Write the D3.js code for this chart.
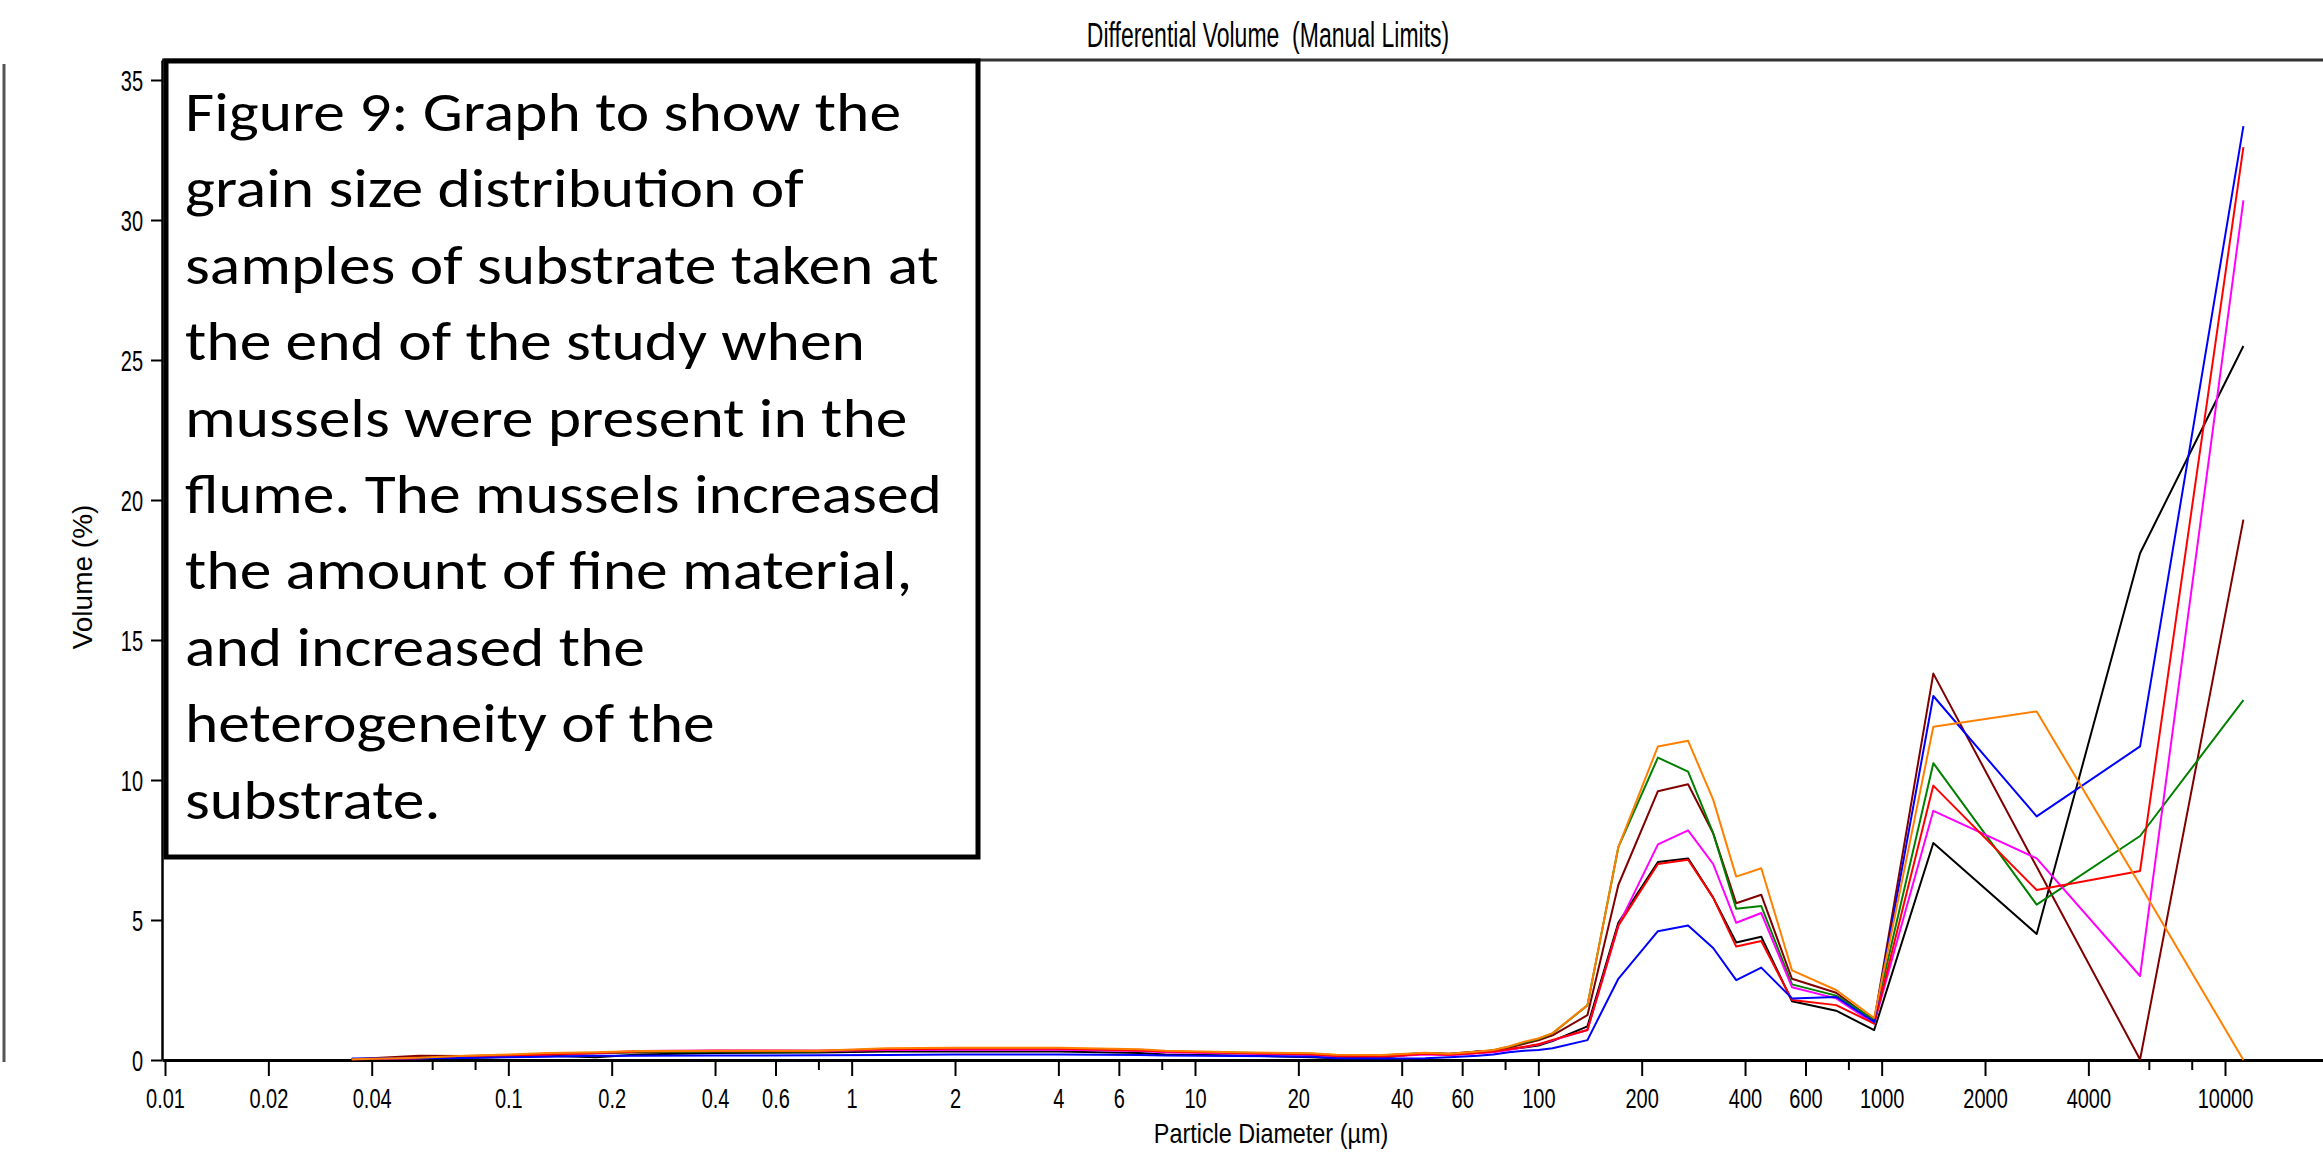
<!DOCTYPE html>
<html>
<head>
<meta charset="utf-8">
<script src="https://cdn.jsdelivr.net/npm/d3@7"></script>
<style>
  body { margin: 0; background: #fff; }
  svg { display: block; }
  .axis text { font-family: "Liberation Sans", Arial, sans-serif; fill: #000; }
  .axis path, .axis line { stroke: #000; }
</style>
</head>
<body>
<div id="chart"></div>
<script>
// particle diameter (um) of each point
var diameters = [0.035, 0.055, 0.075, 0.1, 0.13, 0.18, 0.24, 0.4, 0.8, 1.26, 2, 4, 6.9, 8.2, 13.3, 21.9, 25.8, 35, 46.8, 55,
    66.6, 74, 82, 91, 100, 110, 139, 171, 223, 273, 323, 377, 446, 548, 737, 951, 1414, 2828, 5657, 11314];

// differential volume (%) per sample
var volBlack   = [0.02,0.04,0.07,0.12,0.15,0.1,0.2,0.25,0.27,0.3,0.3,0.3,0.25,0.2,0.16,0.1,0.06,0.08,0.24,0.2,
    0.3,0.33,0.38,0.45,0.52,0.68,1.2,4.9,7.07,7.2,5.8,4.2,4.4,2.1,1.76,1.07,7.75,4.5,18.1,25.5];
var volBrown   = [0.03,0.15,0.14,0.17,0.2,0.24,0.28,0.3,0.3,0.36,0.38,0.38,0.34,0.3,0.25,0.21,0.17,0.16,0.25,0.22,
    0.3,0.34,0.44,0.58,0.7,0.88,1.6,6.25,9.6,9.85,8.1,5.6,5.9,2.9,2.4,1.4,13.8,6.9,0.02,19.3];
var volGreen   = [0.03,0.07,0.12,0.17,0.22,0.25,0.29,0.3,0.3,0.38,0.4,0.4,0.35,0.3,0.26,0.22,0.17,0.16,0.24,0.21,
    0.28,0.35,0.47,0.62,0.75,0.95,1.95,7.6,10.8,10.3,8.1,5.4,5.5,2.7,2.3,1.45,10.6,5.55,8.0,12.85];
var volMagenta = [0.03,0.06,0.1,0.15,0.2,0.25,0.32,0.34,0.33,0.36,0.37,0.37,0.32,0.28,0.23,0.18,0.13,0.12,0.2,0.17,
    0.24,0.28,0.36,0.46,0.55,0.7,1.07,4.8,7.7,8.2,7.0,4.9,5.25,2.6,2.2,1.3,8.9,7.2,3.0,30.7];
var volRed     = [0.03,0.06,0.1,0.15,0.2,0.25,0.3,0.33,0.33,0.38,0.4,0.4,0.34,0.3,0.25,0.2,0.14,0.12,0.22,0.19,
    0.25,0.3,0.38,0.47,0.56,0.72,1.07,4.8,7.0,7.15,5.8,4.05,4.25,2.14,1.96,1.3,9.8,6.07,6.75,32.6];
var volBlue    = [0.05,0.06,0.07,0.1,0.12,0.15,0.15,0.16,0.17,0.18,0.2,0.2,0.18,0.16,0.14,0.12,0.06,0.05,0.06,0.1,
    0.15,0.2,0.28,0.33,0.36,0.42,0.71,2.9,4.6,4.8,4.0,2.85,3.3,2.2,2.25,1.36,13.0,8.7,11.2,33.35];
var volOrange  = [0.03,0.08,0.15,0.2,0.25,0.28,0.32,0.33,0.33,0.42,0.44,0.44,0.38,0.33,0.28,0.24,0.19,0.18,0.26,0.22,
    0.3,0.36,0.48,0.65,0.77,0.96,1.96,7.6,11.2,11.4,9.3,6.55,6.85,3.2,2.5,1.5,11.9,12.45,6.25,0];

var sampleValues = [volBlack, volBrown, volGreen, volMagenta, volRed, volBlue, volOrange];
var sampleColors = ["#000000", "#800000", "#008000", "#ff00ff", "#ff0000", "#0000ff", "#ff8000"];

var xMajorTicks = [0.01, 0.02, 0.04, 0.1, 0.2, 0.4, 0.6, 1, 2, 4, 6, 10, 20, 40, 60, 100, 200, 400, 600, 1000, 2000, 4000, 10000];
var xMinorTicks = [0.06, 0.08, 0.8, 8, 80, 800, 6000, 8000];
var yTicks = [0, 5, 10, 15, 20, 25, 30, 35];

var captionLines = [
    "Figure 9: Graph to show the",
    "grain size distribution of",
    "samples of substrate taken at",
    "the end of the study when",
    "mussels were present in the",
    "flume. The mussels increased",
    "the amount of fine material,",
    "and increased the",
    "heterogeneity of the",
    "substrate."
];

var width = 2323, height = 1161;
var plotLeft = 162, plotRight = 2323, plotTop = 60, plotBottom = 1060;

var svg = d3.select("#chart").append("svg")
    .attr("width", width)
    .attr("height", height);

// scales: calibrated on the labelled ticks, then stretched to the frame
var xCal = d3.scaleLog().domain([0.01, 10000]).range([165, 2225]);
var x = d3.scaleLog()
    .domain([xCal.invert(plotLeft), xCal.invert(plotRight)])
    .range([plotLeft, plotRight]);

var yCal = d3.scaleLinear().domain([0, 35]).range([plotBottom, 80]);
var y = d3.scaleLinear()
    .domain([0, yCal.invert(plotTop)])
    .range([plotBottom, plotTop]);

// outer frame bits
svg.append("line")
    .attr("x1", 4).attr("x2", 4)
    .attr("y1", 64).attr("y2", 1062)
    .attr("stroke", "#555").attr("stroke-width", 3);
svg.append("line")
    .attr("x1", plotLeft).attr("x2", plotRight)
    .attr("y1", plotTop).attr("y2", plotTop)
    .attr("stroke", "#333").attr("stroke-width", 3);

// title
svg.append("text")
    .attr("transform", "translate(1268,47) scale(1,1.5)")
    .attr("text-anchor", "middle")
    .style("font-family", "'Liberation Sans', Arial, sans-serif")
    .style("font-size", "23px")
    .style("white-space", "pre")
    .text("Differential Volume  (Manual Limits)");

// x axis, minor then major ticks
svg.append("g")
    .attr("class", "axis")
    .attr("transform", "translate(0," + plotBottom + ")")
    .call(d3.axisBottom(x).tickValues(xMinorTicks).tickSize(10).tickFormat(""))
    .call(g => g.select(".domain").remove())
    .selectAll("line").attr("stroke-width", 2);

var xAxis = svg.append("g")
    .attr("class", "axis")
    .attr("transform", "translate(0," + plotBottom + ")")
    .call(d3.axisBottom(x).tickValues(xMajorTicks).tickSize(16).tickSizeOuter(0).tickFormat(d => String(d)));
xAxis.select(".domain").attr("stroke-width", 3);
xAxis.selectAll(".tick line").attr("stroke-width", 2);
xAxis.selectAll(".tick text")
    .attr("y", null).attr("dy", null)
    .attr("transform", "translate(0,48) scale(1,1.4)")
    .style("font-size", "20px");

svg.append("text")
    .attr("transform", "translate(1271,1143) scale(1,1.2)")
    .attr("text-anchor", "middle")
    .style("font-family", "'Liberation Sans', Arial, sans-serif")
    .style("font-size", "23.4px")
    .text("Particle Diameter (µm)");

// y axis
var yAxis = svg.append("g")
    .attr("class", "axis")
    .attr("transform", "translate(" + plotLeft + ",0)")
    .call(d3.axisLeft(y).tickValues(yTicks).tickSize(11).tickSizeOuter(0));
yAxis.select(".domain").attr("stroke-width", 2.5);
yAxis.selectAll(".tick line").attr("stroke-width", 2);
yAxis.selectAll(".tick text")
    .attr("x", null).attr("dy", null)
    .attr("transform", "translate(-19,10.5) scale(1,1.45)")
    .style("font-size", "20px");

svg.append("text")
    .attr("transform", "translate(92,577) rotate(-90)")
    .attr("text-anchor", "middle")
    .style("font-family", "'Liberation Sans', Arial, sans-serif")
    .style("font-size", "28px")
    .text("Volume (%)");

// sample curves
var line = d3.line()
    .x(d => x(d[0]))
    .y(d => y(d[1]));

svg.append("g").selectAll("path")
    .data(sampleValues)
    .enter().append("path")
    .attr("d", vals => line(vals.map((v, i) => [diameters[i], v])))
    .attr("fill", "none")
    .attr("stroke", (d, i) => sampleColors[i])
    .attr("stroke-width", 2)
    .attr("stroke-linejoin", "round");

// caption box
var box = svg.append("g");
box.append("rect")
    .attr("x", 166).attr("y", 61)
    .attr("width", 812).attr("height", 796)
    .attr("fill", "#fff")
    .attr("stroke", "#000")
    .attr("stroke-width", 5);

var captionText = box.append("g");
captionText.selectAll("text")
    .data(captionLines)
    .enter().append("text")
    .attr("x", 0)
    .attr("y", (d, i) => 131 + i * 76.4)
    .style("font-family", "Carlito, Calibri, Lato, 'Open Sans', sans-serif")
    .style("font-size", "56px")
    .attr("fill", "#000")
    .text(d => d);

// squeeze/stretch so the widest line fills the box like the original
var widest = d3.max(captionText.selectAll("text").nodes(), n => n.getComputedTextLength());
var kx = 757 / widest;
captionText.attr("transform", "translate(185,0) scale(" + kx + ",1)");
</script>
</body>
</html>
